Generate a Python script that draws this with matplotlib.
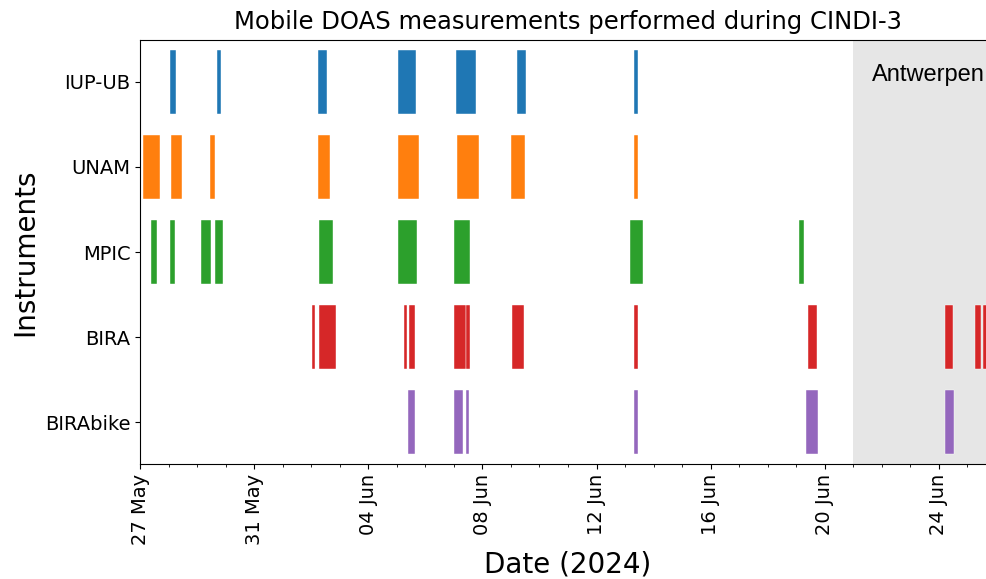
import matplotlib

matplotlib.use("Agg")
import matplotlib.dates as mdates
import matplotlib.pyplot as plt
import pandas as pd


INSTRUMENTS = ["IUP-UB", "UNAM", "MPIC", "BIRA", "BIRAbike"]
COLORS = ["#1f77b4", "#ff7f0e", "#2ca02c", "#d62728", "#9467bd"]

# measurement periods (UTC), start / end
IUP_UB = [
    ("05-28 01:10", "05-28 06:15"),
    ("05-29 16:35", "05-29 20:10"),
    ("06-02 06:00", "06-02 13:40"),
    ("06-05 01:10", "06-05 16:20"),
    ("06-07 01:55", "06-07 18:15"),
    ("06-09 05:30", "06-09 12:45"),
    ("06-13 07:55", "06-13 10:50"),
]
UNAM = [
    ("05-27 02:50", "05-27 16:50"),
    ("05-28 02:10", "05-28 11:15"),
    ("05-29 10:50", "05-29 15:10"),
    ("06-02 06:00", "06-02 15:35"),
    ("06-05 01:10", "06-05 18:55"),
    ("06-07 02:25", "06-07 21:20"),
    ("06-09 00:15", "06-09 12:15"),
    ("06-13 07:10", "06-13 10:50"),
]
MPIC = [
    ("05-27 08:50", "05-27 14:40"),
    ("05-28 01:10", "05-28 05:45"),
    ("05-29 03:35", "05-29 11:45"),
    ("05-29 14:50", "05-29 22:05"),
    ("06-02 06:40", "06-02 18:15"),
    ("06-05 01:10", "06-05 17:15"),
    ("06-06 23:45", "06-07 13:25"),
    ("06-13 03:50", "06-13 15:10"),
    ("06-19 02:40", "06-19 06:45"),
]
BIRA = [
    ("06-02 00:30", "06-02 03:35"),
    ("06-02 06:40", "06-02 20:55"),
    ("06-05 06:15", "06-05 08:40"),
    ("06-05 10:35", "06-05 14:55"),
    ("06-07 00:30", "06-07 09:50"),
    ("06-07 09:50", "06-07 13:10"),
    ("06-09 01:10", "06-09 10:35"),
    ("06-13 07:40", "06-13 11:00"),
    ("06-19 10:05", "06-19 17:30"),
    ("06-24 05:30", "06-24 12:00"),
    ("06-25 06:30", "06-25 11:45"),
    ("06-25 13:10", "06-25 19:00"),
]
BIRABIKE = [
    ("06-05 09:35", "06-05 15:35"),
    ("06-07 00:15", "06-07 07:55"),
    ("06-07 10:05", "06-07 12:55"),
    ("06-13 07:40", "06-13 11:00"),
    ("06-19 08:25", "06-19 18:00"),
    ("06-24 05:15", "06-24 12:45"),
]
PERIODS = [IUP_UB, UNAM, MPIC, BIRA, BIRABIKE]

ANTWERPEN_START = "2024-06-21"
X_START = "2024-05-27"
X_END = "2024-06-26"


def to_num(stamp):
    return mdates.date2num(pd.Timestamp(f"2024-{stamp}"))


def main():
    fig = plt.figure(figsize=(9.87, 5.79), dpi=100)
    ax = fig.add_axes([140 / 987, 115 / 579, 856 / 987, 424 / 579])

    n = len(INSTRUMENTS)
    for i, (name, periods, color) in enumerate(zip(INSTRUMENTS, PERIODS, COLORS)):
        y = n - 1 - i
        spans = [(to_num(s), to_num(e) - to_num(s)) for s, e in periods]
        ax.broken_barh(spans, (y - 0.375, 0.75), facecolors=color,
                       edgecolor="white", linewidth=0.3, zorder=2)

    ax.axvspan(pd.Timestamp(ANTWERPEN_START), pd.Timestamp(X_END),
               color="0.9", zorder=0, lw=0)
    ax.text(pd.Timestamp(ANTWERPEN_START) + pd.Timedelta(hours=15.5), 4.08,
            "Antwerpen", fontsize=17, family="Liberation Sans",
            va="center", ha="left")

    ax.set_xlim(pd.Timestamp(X_START), pd.Timestamp(X_END))
    ax.set_ylim(-0.49, n - 1 + 0.49)
    ax.set_yticks(range(n - 1, -1, -1), labels=INSTRUMENTS, fontsize=14)

    ax.set_xticks(pd.date_range(X_START, periods=8, freq="4D"))
    ax.xaxis.set_minor_locator(mdates.DayLocator())
    ax.xaxis.set_major_formatter(mdates.DateFormatter("%d %b"))
    ax.tick_params(axis="x", labelsize=14, labelrotation=90)

    ax.set_xlabel("Date (2024)", fontsize=20)
    ax.set_ylabel("Instruments", fontsize=20)
    ax.set_title("Mobile DOAS measurements performed during CINDI-3",
                 fontsize=17.5, pad=8)

    fig.savefig("out.png", dpi=100)
    plt.close(fig)


if __name__ == "__main__":
    main()
